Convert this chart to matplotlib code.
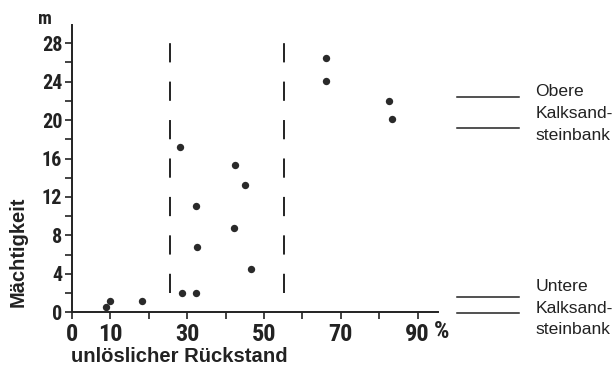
import matplotlib
matplotlib.use("Agg")
import matplotlib.pyplot as plt
from matplotlib import font_manager

plt.rcParams["lines.scale_dashes"] = False

# insoluble residue (%) vs. thickness (m)
residue = [8.8, 9.9, 18.1, 28.6, 32.2, 28.1, 32.4, 32.6, 42.4, 45.1, 42.2, 46.6,
           66.2, 66.2, 82.5, 83.4]
thickness = [0.6, 1.2, 1.2, 2.0, 2.0, 17.2, 11.1, 6.8, 15.3, 13.3, 8.8, 4.5,
             26.5, 24.1, 22.0, 20.1]

# dashed boundaries of the residue range
bounds_x = [25.5, 55.3]
bounds_y = (2, 28)

# sandstone bed limits (m) and their names
upper_bed = [22.4, 19.2]
lower_bed = [1.6, -0.1]
upper_label = "Obere\nKalksand-\nsteinbank"
lower_label = "Untere\nKalksand-\nsteinbank"

x_ticks = list(range(0, 100, 10))
x_labels = ["0", "10", "", "30", "", "50", "", "70", "", "90"]
y_ticks = list(range(0, 30, 2))
y_labels = [str(v) if v % 4 == 0 else "" for v in y_ticks]

ink = "#222222"
sans = ["Liberation Sans", "DejaVu Sans"]


def condensed_font():
    """Pick a narrow bold face for the tick numbers, if one is installed."""
    fonts = font_manager.fontManager.ttflist
    names = {f.name for f in fonts}
    for fam in ("Liberation Sans Narrow", "Roboto Condensed",
                "Open Sans Condensed", "Noto Sans Condensed"):
        if fam in names:
            return dict(family=[fam, "DejaVu Sans"], fontweight="bold"), 1.0
    for f in fonts:
        if f.name == "DejaVu Sans" and f.stretch in ("condensed", 300, "semi-condensed"):
            return dict(family=["DejaVu Sans"], fontstretch="condensed",
                        fontweight="bold"), 0.9
    return dict(family=["Liberation Sans", "DejaVu Sans"], fontweight="bold"), 0.92


num_style, num_scale = condensed_font()

fig = plt.figure(figsize=(6.15, 3.65), dpi=100)
ax = fig.add_axes([72 / 615, 1 - 312.3 / 365, 366 / 615, 287.3 / 365])
ax.set_xlim(0, 95.3)
ax.set_ylim(0, 29.9)

for side in ("top", "right"):
    ax.spines[side].set_visible(False)
for side in ("left", "bottom"):
    ax.spines[side].set_linewidth(1.4)
    ax.spines[side].set_color(ink)

ax.set_xticks(x_ticks)
ax.set_xticklabels(x_labels)
ax.set_yticks(y_ticks)
ax.set_yticklabels(y_labels)
ax.tick_params(axis="both", direction="out", length=5, width=1.2, color=ink,
               labelcolor=ink)
ax.tick_params(axis="x", pad=2.5)
ax.tick_params(axis="y", pad=2)
for lab in ax.get_xticklabels():
    lab.set(**num_style)
    lab.set_fontsize(17.5 * num_scale)
for lab in ax.get_yticklabels():
    lab.set(**num_style)
    lab.set_fontsize(14.5 * num_scale)

ax.scatter(residue, thickness, s=28, color="#2a2a2a", zorder=3, clip_on=False,
           linewidths=0)

# dash length equal to 2 m on the y scale
dash_pt = 2 * (287.3 / 29.9) * 72 / 100
ax.vlines(bounds_x, *bounds_y, colors=ink, linewidth=1.4,
          linestyles=[(0, (dash_pt, dash_pt))])

# bed markers to the right of the plot
for y in upper_bed + lower_bed:
    ax.plot([100.3, 116.4], [y, y], color=ink, linewidth=1.1, clip_on=False)
ax.text(120.6, sum(upper_bed) / 2 - 0.1, upper_label, ha="left", va="center",
        fontsize=12.6, family=sans, color=ink, linespacing=1.55)
ax.text(120.6, sum(lower_bed) / 2 - 0.33, lower_label, ha="left", va="center",
        fontsize=12.6, family=sans, color=ink, linespacing=1.55)

ax.text(96.2, -0.75, "%", ha="center", va="top", fontsize=17.5 * num_scale,
        color=ink, clip_on=False, **num_style)

fig.text(45 / 615, 1 - 19 / 365, "m", ha="center", va="center",
         fontsize=13.5 * num_scale, color=ink, **num_style)
fig.text(18 / 615, 1 - 252 / 365, "Mächtigkeit", rotation=90, ha="center",
         va="center", fontsize=14.5, family=sans, fontweight="bold", color=ink)
fig.text(179 / 615, 1 - 356 / 365, "unlöslicher Rückstand", ha="center",
         va="center", fontsize=14.6, family=sans, fontweight="bold", color=ink)

fig.savefig("out.png", dpi=100, facecolor="white")
